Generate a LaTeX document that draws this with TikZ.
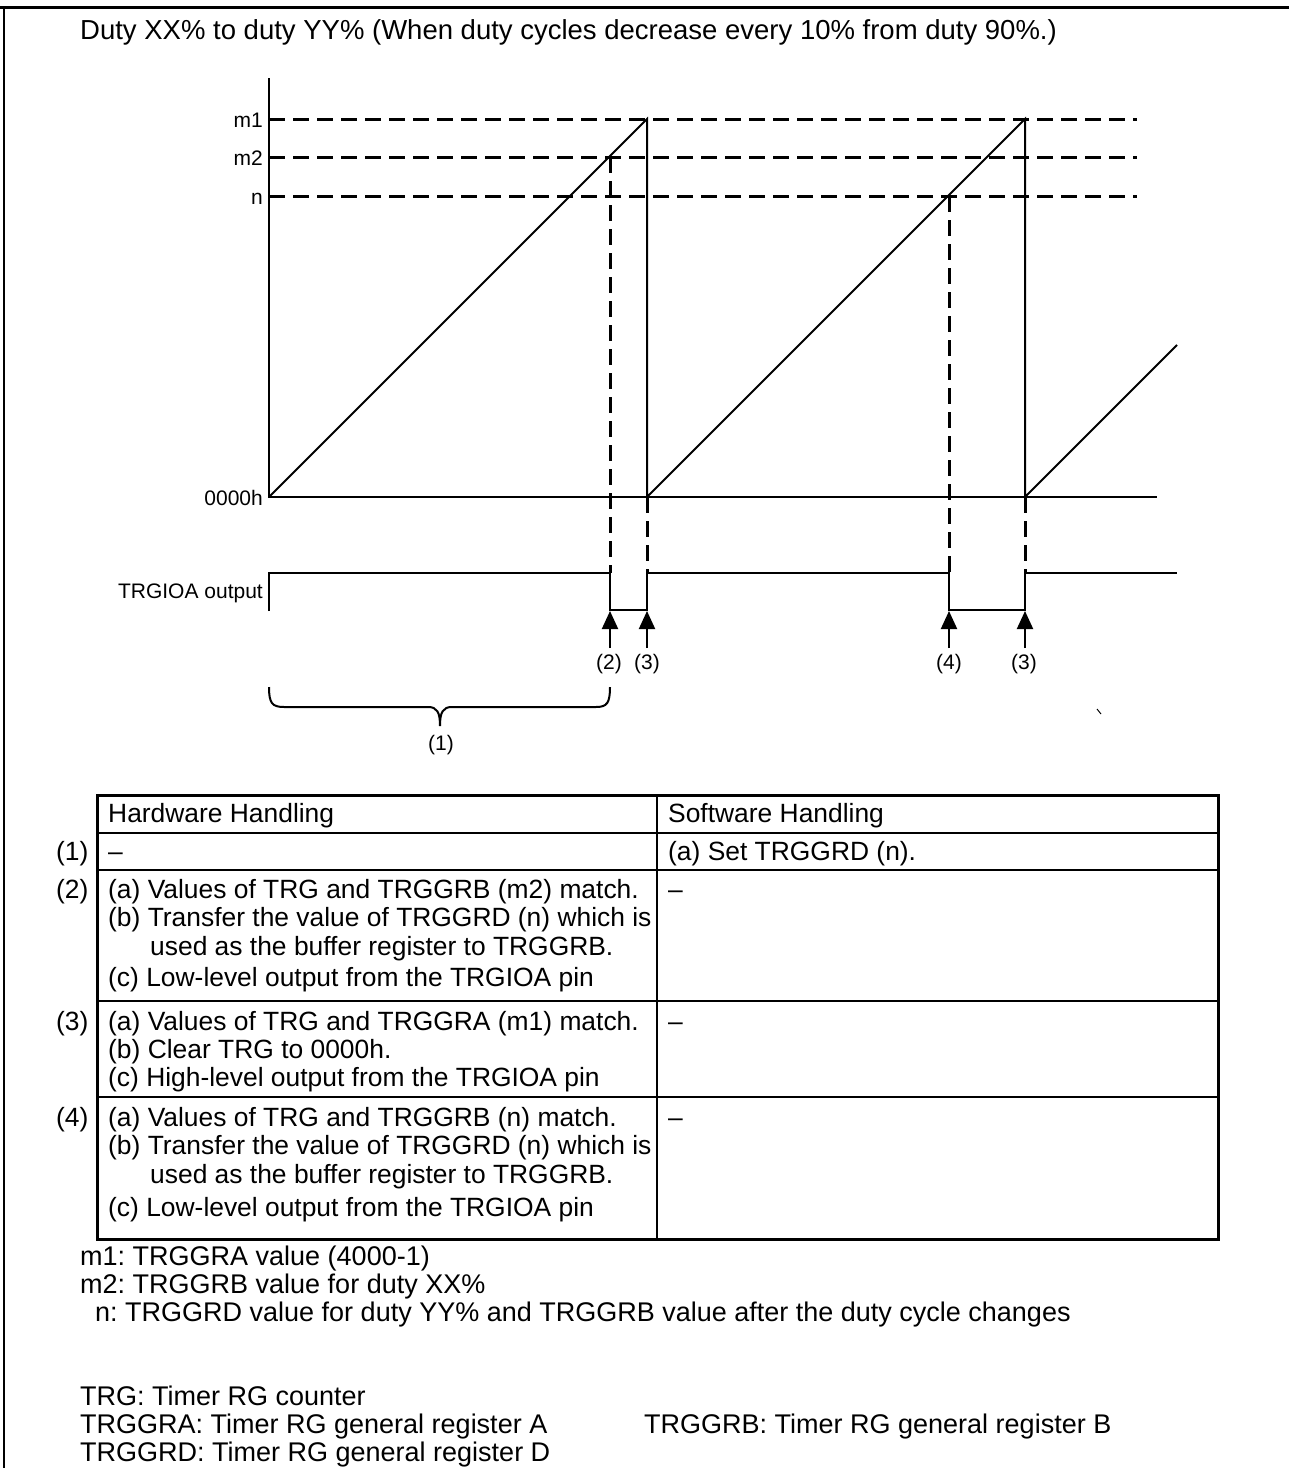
\documentclass[tikz,border=0pt]{standalone}
\usepackage{fontspec}
\setmainfont{Liberation Sans}
\usetikzlibrary{arrows.meta}
\newcommand\tabfont{\fontsize{26.4}{28}\selectfont}
\newcommand\notefont{\fontsize{27}{28}\selectfont}
\newcommand\headfont{\fontsize{27.5}{30}\selectfont}
\newcommand\axfont{\fontsize{21}{24}\selectfont}
\frenchspacing
\begin{document}
\frenchspacing
\begin{tikzpicture}[x=1pt,y=-1pt,
  dashline/.style={line width=3pt, dash pattern=on 16pt off 8pt},
  wave/.style={line width=2.5pt},
  ramp/.style={line width=2pt},
  axis/.style={line width=2.5pt},
  evarrow/.style={line width=2pt, -{Triangle[width=16pt,length=18pt]}},
  touter/.style={line width=3pt},
  tinner/.style={line width=2pt},
  txt/.style={anchor=base west, inner sep=0pt, font=\tabfont},
  note/.style={anchor=base west, inner sep=0pt, font=\notefont},
  ax/.style={anchor=base east, inner sep=0pt, font=\axfont},
  lbl/.style={anchor=base, inner sep=0pt, font=\axfont}]
\useasboundingbox (0,0) rectangle (1289,1468);
% frame
\draw[line width=3pt] (0,7) -- (1289,7);
\draw[line width=2.5pt] (4,7) -- (4,1468);
% title
\node[anchor=base west, inner sep=0pt, font=\headfont] (title) at (80,39) {Duty XX\% to duty YY\% (When duty cycles decrease every 10\% from duty 90\%.)};
% coordinates
\coordinate (o) at (269,497);
\coordinate (top) at (269,78);
\coordinate (p1) at (647,119);
\coordinate (z1) at (647,497);
\coordinate (p2) at (1025,119);
\coordinate (z2) at (1025,497);
\coordinate (r3) at (1177,345);
\coordinate (xe) at (1157,497);
% axes
\draw[axis] (top) -- (o) -- (xe);
% level labels
\node[ax] (lm1) at (263,127) {m1};
\node[ax] (lm2) at (263,165) {m2};
\node[ax] (ln) at (263,204) {n};
\node[ax] (lz) at (263,505) {0000h};
\node[ax] (lout) at (263,598) {TRGIOA output};
% dashed levels
\draw[dashline] (269,119) -- (1137,119);
\draw[dashline] (269,157) -- (1137,157);
\draw[dashline] (269,196) -- (1137,196);
% sawtooth
\draw[ramp] (o) -- (p1) -- (z1) -- (p2) -- (z2) -- (r3);
% dashed verticals
\draw[dashline] (610,157) -- (610,573);
\draw[dashline] (647,497) -- (647,573);
\draw[dashline] (949,196) -- (949,573);
\draw[dashline] (1025,497) -- (1025,573);
% output waveform
\draw[wave] (269,611) -- (269,573) -- (610,573) -- (610,610) -- (647,610) -- (647,573)
  -- (949,573) -- (949,610) -- (1025,610) -- (1025,573) -- (1177,573);
% event arrows
\coordinate (a2) at (610,611);
\coordinate (a3) at (647,611);
\coordinate (a4) at (949,611);
\coordinate (a3b) at (1025,611);
\draw[evarrow] (610,648) -- (a2);
\draw[evarrow] (647,648) -- (a3);
\draw[evarrow] (949,648) -- (a4);
\draw[evarrow] (1025,648) -- (a3b);
\node[lbl] (e2) at (609,669) {(2)};
\node[lbl] (e3) at (647,669) {(3)};
\node[lbl] (e4) at (949,669) {(4)};
\node[lbl] (e3b) at (1024,669) {(3)};
% brace
\draw[line width=2pt] (269,687) .. controls (269,703) and (272,707) .. (284,707)
  -- (428,707) .. controls (437,707) and (440,712) .. (440,726)
  .. controls (440,712) and (443,707) .. (452,707)
  -- (596,707) .. controls (607,707) and (610,703) .. (610,687);
\node[lbl] (e1) at (441,750) {(1)};
% stray tick
\draw[line width=1pt] (1097,709) -- (1101,714);
% table
\draw[touter] (97,795) rectangle (1218,1239);
\draw[tinner] (657,795) -- (657,1239);
\draw[tinner] (97,833) -- (1218,833);
\draw[tinner] (97,870) -- (1218,870);
\draw[tinner] (97,1001) -- (1218,1001);
\draw[tinner] (97,1097) -- (1218,1097);
\node[txt] (h1) at (108,822) {Hardware Handling};
\node[txt] (h2) at (668,822) {Software Handling};
\node[txt] (r1l) at (56,860) {(1)};
\node[txt] (r1a) at (108,860) {–};
\node[txt] (r1b) at (668,860) {(a) Set TRGGRD (n).};
\node[txt] (r2l) at (56,898) {(2)};
\node[txt] (r2a) at (108,898) {(a) Values of TRG and TRGGRB (m2) match.};
\node[txt] (r2b) at (108,926) {(b) Transfer the value of TRGGRD (n) which is};
\node[txt] (r2c) at (150,955) {used as the buffer register to TRGGRB.};
\node[txt] (r2d) at (108,986) {(c) Low-level output from the TRGIOA pin};
\node[txt] (r2s) at (668,898) {–};
\node[txt] (r3l) at (56,1030) {(3)};
\node[txt] (r3a) at (108,1030) {(a) Values of TRG and TRGGRA (m1) match.};
\node[txt] (r3b) at (108,1058) {(b) Clear TRG to 0000h.};
\node[txt] (r3c) at (108,1086) {(c) High-level output from the TRGIOA pin};
\node[txt] (r3s) at (668,1030) {–};
\node[txt] (r4l) at (56,1126) {(4)};
\node[txt] (r4a) at (108,1126) {(a) Values of TRG and TRGGRB (n) match.};
\node[txt] (r4b) at (108,1154) {(b) Transfer the value of TRGGRD (n) which is};
\node[txt] (r4c) at (150,1183) {used as the buffer register to TRGGRB.};
\node[txt] (r4d) at (108,1216) {(c) Low-level output from the TRGIOA pin};
\node[txt] (r4s) at (668,1126) {–};
% notes
\node[note] (n1) at (80,1265) {m1: TRGGRA value (4000-1)};
\node[note] (n2) at (80,1293) {m2: TRGGRB value for duty XX\%};
\node[note] (n3) at (95,1321) {n: TRGGRD value for duty YY\% and TRGGRB value after the duty cycle changes};
\node[note] (n4) at (80,1405) {TRG: Timer RG counter};
\node[note] (n5) at (80,1433) {TRGGRA: Timer RG general register A};
\node[note] (n6) at (644,1433) {TRGGRB: Timer RG general register B};
\node[note] (n7) at (80,1461) {TRGGRD: Timer RG general register D};
\end{tikzpicture}
\end{document}
